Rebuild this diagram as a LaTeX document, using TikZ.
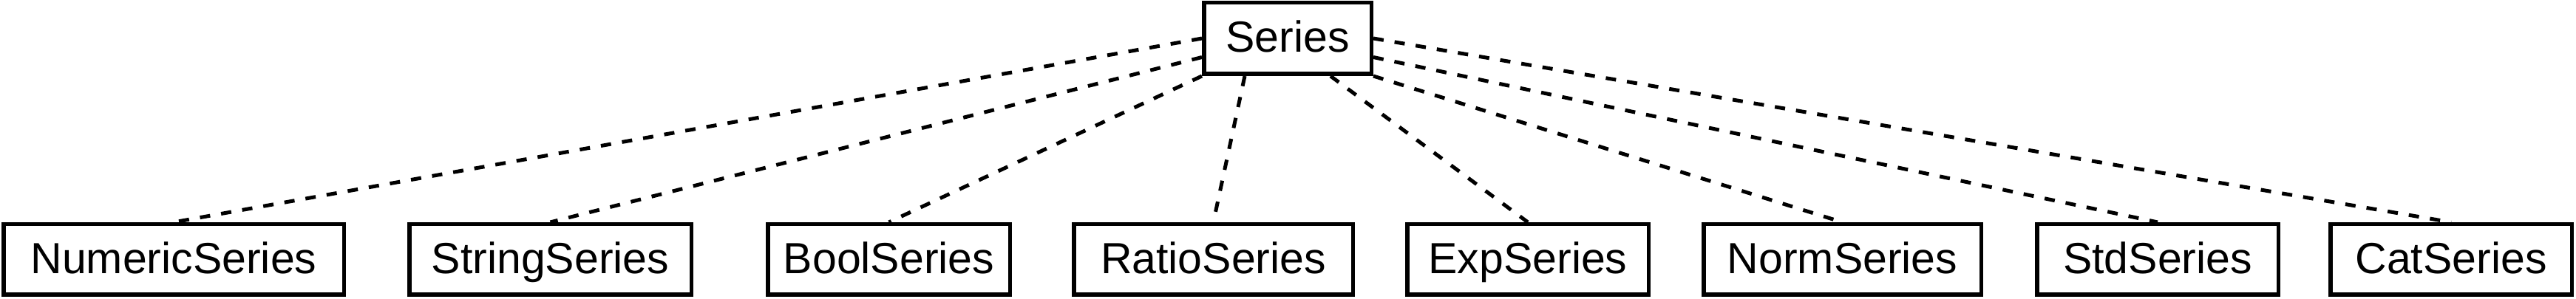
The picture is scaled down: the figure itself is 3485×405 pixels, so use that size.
\documentclass[tikz,border=0pt]{standalone}
\usepackage{fontspec}
\setmainfont{Liberation Sans}
\usetikzlibrary{calc}
\begin{document}
\begin{tikzpicture}[x=0.5pt,y=-0.5pt,
  box/.style={draw=black, line width=2.75pt, inner sep=0pt, fill=white,
    minimum height=47.75pt, text height=23pt, text depth=4pt,
    font=\fontsize{29.5pt}{34pt}\selectfont},
  link/.style={draw=black, line width=2.5pt, dash pattern=on 7pt off 7.5pt}]
\useasboundingbox (0,0) rectangle (3485,405);
\node[box, minimum width=113.25pt, minimum height=48.25pt] (S) at (1742,52) {Series};
\node[box, minimum width=230.25pt] (num) at (235,351.5) {NumericSeries};
\node[box, minimum width=190.75pt] (str) at (744.5,351.5) {StringSeries};
\node[box, minimum width=163.75pt] (bool) at (1202.5,351.5) {BoolSeries};
\node[box, minimum width=188.75pt] (ratio) at (1641.5,351.5) {RatioSeries};
\node[box, minimum width=163.25pt] (exp) at (2067,351.5) {ExpSeries};
\node[box, minimum width=187.75pt] (norm) at (2492.5,351.5) {NormSeries};
\node[box, minimum width=163.25pt] (std) at (2919,351.5) {StdSeries};
\node[box, minimum width=163.25pt] (cat) at (3316,351.5) {CatSeries};
\draw[link] (S.west) -- (num.north);
\draw[link] ($(S.west)!0.5!(S.south west)$) -- (str.north);
\draw[link] (S.south west) -- (bool.north);
\draw[link] ($(S.south west)!0.25!(S.south east)$) -- (ratio.north);
\draw[link] ($(S.south west)!0.75!(S.south east)$) -- (exp.north);
\draw[link] (S.south east) -- (norm.north);
\draw[link] ($(S.east)!0.5!(S.south east)$) -- (std.north);
\draw[link] (S.east) -- (cat.north);
\end{tikzpicture}
\end{document}
